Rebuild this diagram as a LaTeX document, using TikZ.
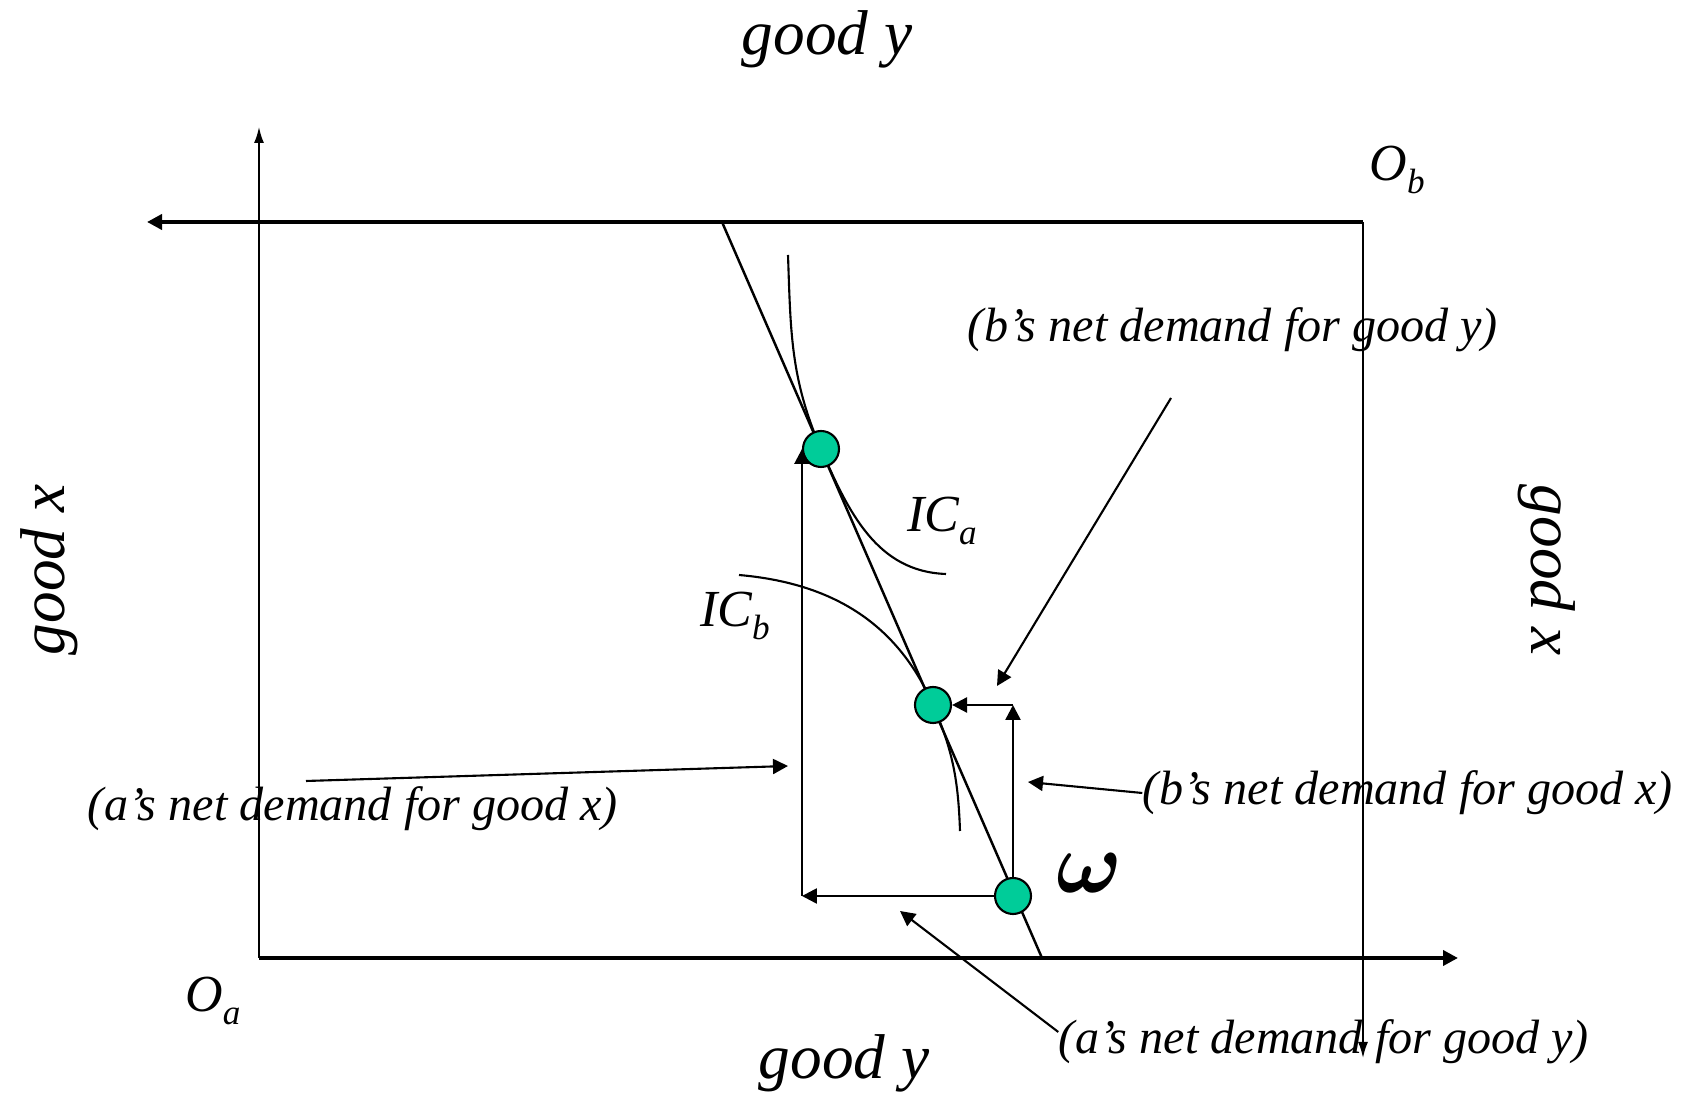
\documentclass[tikz,border=0pt]{standalone}
\usepackage{amsmath}
\usepackage{fontspec}
\setmainfont{Liberation Serif}
\usetikzlibrary{arrows.meta,positioning}
\definecolor{dotgreen}{RGB}{0,204,153}
\newcommand\lowsub[1]{\raisebox{-0.55ex}{\fontsize{10}{12}\selectfont #1}}
\tikzset{
  dot/.style={circle, draw, fill=dotgreen, line width=0.6pt, minimum size=3.6mm, inner sep=0pt},
  note/.style={font=\fontsize{13.7}{16}\selectfont\itshape, inner sep=0pt},
  goodlab/.style={font=\fontsize{18}{20}\selectfont\itshape, inner sep=0pt},
  lab/.style={font=\fontsize{14.8}{17}\selectfont\itshape, inner sep=0pt},
  thinaxis/.style={line width=0.5pt, -{Latex[length=1.6mm,width=1mm]}},
  thickaxis/.style={line width=1.1pt, ->},
}

\begin{document}
\begin{tikzpicture}[>={Triangle[length=1.5mm,width=1.5mm]}]
    \useasboundingbox (0,0) rectangle (16.85,10.94);

    % Axes of a
    \coordinate (Oa) at (2.59,1.36);
    \draw[thinaxis] (Oa) -- (2.59,9.67);
    \draw[thickaxis] (Oa) -- (14.58,1.36);

    % Axes of b
    \coordinate (Ob) at (13.63,8.72);
    \draw[thickaxis] (Ob) -- (1.47,8.72);
    \draw[thinaxis] (Ob) -- (13.63,0.36);

    % Axis labels
    \node[goodlab] (gyt) at (8.27,10.55) {good y};
    \node[goodlab] (gyb) at (8.44,0.31) {good y};
    \node[goodlab, rotate=90] (gxl) at (0.49,5.24) {good x};
    \node[goodlab, rotate=-90] (gxr) at (15.47,5.24) {good x};
    \node[lab] (la) at (2.13,0.93) {O\lowsub{a}};
    \node[lab] (lb) at (13.97,9.24) {O\lowsub{b}};

    % Budget line and points on it
    \coordinate (pa) at (8.21,6.45);
    \coordinate (pb) at (9.33,3.89);
    \coordinate (pw) at (10.13,1.98);
    \draw[line width=0.7pt] (7.22,8.72) -- (10.42,1.36);

    % Indifference curves
    \draw[line width=0.6pt] (7.88,8.39) to[out=-88, in=113.5] (pa)
        to[out=-66.5, in=178] (9.46,5.20);
    \draw[line width=0.6pt] (7.39,5.19) to[out=-5, in=113.5] (pb)
        to[out=-66.5, in=92] (9.60,2.63);
    \node[lab] (ica) at (9.42,5.73) {IC\lowsub{a}};
    \node[lab] (icb) at (7.35,4.78) {IC\lowsub{b}};

    % Net demands
    \node[dot] (A) at (pa) {};
    \node[dot] (B) at (pb) {};
    \node[dot] (W) at (pw) {};
    \node[font=\fontsize{27}{30}\selectfont, inner sep=0pt] (om) at (10.89,2.21) {$\boldsymbol{\omega}$};

    \coordinate (ca) at (A.west |- W);
    \coordinate (cb) at (W |- B);
    \draw[->, line width=0.7pt] (W) -- (ca);
    \draw[->, line width=0.7pt] (ca) -- (A.west);
    \draw[->, line width=0.7pt] (W) -- (cb);
    \draw[->, line width=0.7pt] (cb) -- (B);

    % Notes
    \node[note] (nyb) at (12.33,7.64) {(b’s net demand for good y)};
    \node[note] (nxb) at (14.08,3.01) {(b’s net demand for good x)};
    \node[note] (nxa) at (3.53,2.85) {(a’s net demand for good x)};
    \node[note] (nya) at (13.24,0.52) {(a’s net demand for good y)};

    \coordinate (tyb) at (11.71,6.96);
    \coordinate (hyb) at (9.97,4.08);
    \coordinate (hxb) at (10.28,3.12);
    \coordinate (txa) at (3.06,3.13);
    \coordinate (hxa) at (7.88,3.28);
    \coordinate (hya) at (9.00,1.83);
    \draw[->, line width=0.6pt] (tyb) -- (hyb);
    \draw[->, line width=0.6pt] (nxb.west) -- (hxb);
    \draw[->, line width=0.6pt] (txa) -- (hxa);
    \draw[->, line width=0.6pt] ([yshift=1mm]nya.west) -- (hya);
\end{tikzpicture}
\end{document}
